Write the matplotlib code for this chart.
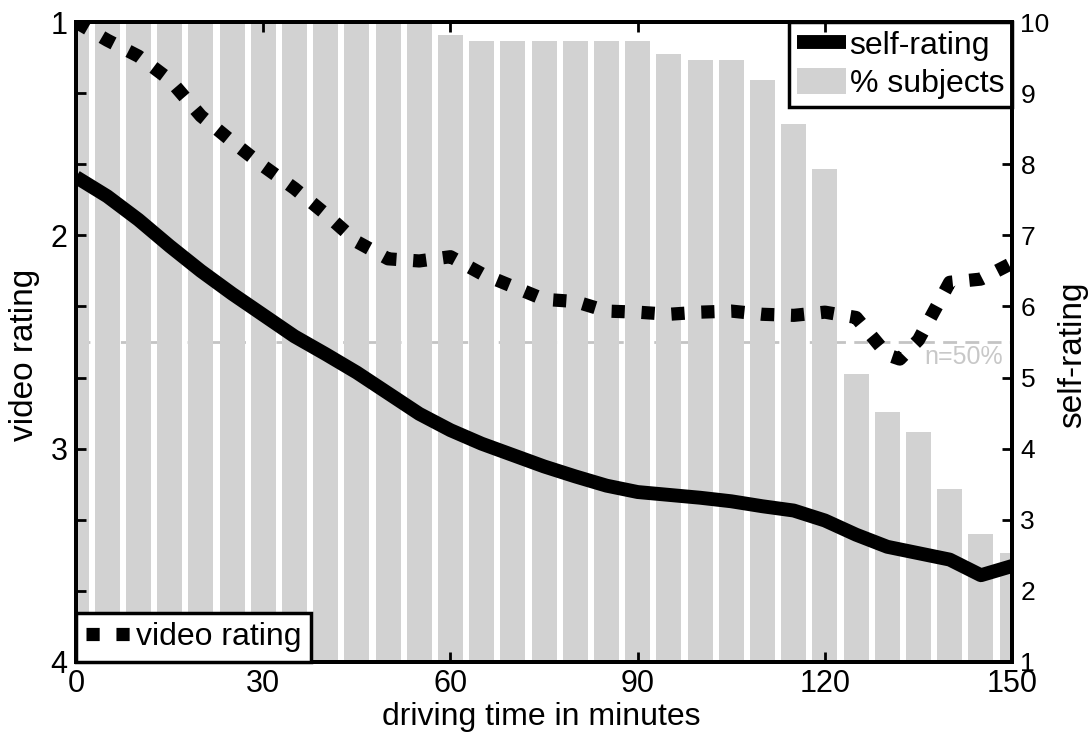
import numpy as np
import matplotlib
matplotlib.use("Agg")
import matplotlib.pyplot as plt

plt.rcParams['font.family'] = ['Liberation Sans', 'DejaVu Sans']

# driving time axis (minutes), one bar every 5 minutes
bar_times = np.arange(0, 151, 5)
# % of subjects still driving at each time
pct_subjects = [100, 100, 100, 100, 100, 100, 100, 100, 100, 100, 100, 100,
                98, 97, 97, 97, 97, 97, 97, 95, 94, 94, 91, 84, 77,
                45, 39, 36, 27, 20, 17]

# video rating (left axis, 1 = awake ... 4 = drowsy)
video_times = [0, 5, 10, 15, 20, 25, 30, 35, 40, 45, 50, 55, 60, 65, 70, 75,
               80, 85, 90, 95, 100, 105, 110, 115, 120, 125, 130, 132, 135,
               140, 145, 150]
video_rating = [1.00, 1.085, 1.16, 1.27, 1.44, 1.56, 1.675, 1.78, 1.90, 2.03,
                2.11, 2.12, 2.10, 2.18, 2.24, 2.30, 2.31, 2.355, 2.36, 2.37,
                2.36, 2.355, 2.37, 2.375, 2.36, 2.385, 2.56, 2.58, 2.49,
                2.22, 2.205, 2.13]

# self-rating (right axis, 1..10)
self_times = np.arange(0, 151, 5)
self_rating = [7.82, 7.55, 7.22, 6.85, 6.50, 6.18, 5.88, 5.58, 5.33, 5.07,
               4.78, 4.49, 4.26, 4.07, 3.91, 3.75, 3.61, 3.48, 3.39, 3.35,
               3.31, 3.26, 3.19, 3.13, 2.99, 2.79, 2.62, 2.53, 2.44, 2.22, 2.35]

BAR_GRAY = '#d2d2d2'
LW_SPINE = 2.8

fig = plt.figure(figsize=(10.91, 7.33), dpi=100)
ax = fig.add_axes([0.0697, 0.0969, 0.858, 0.873])
ax2 = ax.twinx()

# right axis holds the bars and self-rating, left axis drawn on top
ax.set_zorder(2)
ax2.set_zorder(1)
ax.patch.set_visible(False)
ax2.patch.set_visible(True)
ax2.patch.set_facecolor('white')

heights = np.array(pct_subjects) / 100 * 9
bars = ax2.bar(bar_times, heights, width=4, bottom=1, color=BAR_GRAY,
               linewidth=0, zorder=2)
ax2.axhline(5.5, color='#c4c4c4', lw=2, dashes=(5, 3), zorder=1)
ax2.text(148.6, 5.29, 'n=50%', color='#c8c8c8', fontsize=18,
         ha='right', va='center', zorder=3)
self_line, = ax2.plot(self_times, self_rating, color='black', lw=10,
                      solid_capstyle='butt', solid_joinstyle='round', zorder=4)

video_line, = ax.plot(video_times, video_rating, color='black', lw=9.5,
                      linestyle=(0, (1, 1.27)), dash_capstyle='butt')

ax.set_xlim(0, 150)
ax.set_ylim(4, 1)
ax2.set_ylim(1, 10)

ax.set_xticks([0, 30, 60, 90, 120, 150])
ax.set_yticks([1, 2, 3, 4])
ax.set_yticks(np.linspace(1, 4, 10), minor=True)
ax2.set_yticks(range(1, 11))

ax.tick_params(axis='x', which='both', direction='in', top=True, length=7,
               width=2, labelsize=22, pad=5)
ax.tick_params(axis='y', which='both', direction='in', right=False, length=7,
               width=2, labelsize=22, pad=6)
ax2.tick_params(axis='y', direction='in', length=7, width=2, labelsize=19, pad=6)
ax2.tick_params(axis='x', which='both', bottom=False, top=False)

for a in (ax, ax2):
    for s in a.spines.values():
        s.set_linewidth(LW_SPINE)

ax.set_xlabel('driving time in minutes', fontsize=23)
ax.xaxis.set_label_coords(0.497, -0.062)
ax.set_ylabel('video rating', fontsize=24)
ax.yaxis.set_label_coords(-0.038, 0.48)
ax2.set_ylabel('self-rating', fontsize=24)
ax2.yaxis.set_label_coords(1.048, 0.48)

leg2 = ax2.legend([self_line, bars], ['self-rating', '% subjects'],
                  loc='upper right', fontsize=23, borderaxespad=0,
                  fancybox=False, framealpha=1, edgecolor='black',
                  handlelength=1.56, handleheight=0.9, handletextpad=0.1,
                  borderpad=0.25, labelspacing=0.2)
leg2.get_frame().set_linewidth(2.5)

leg = ax.legend([video_line], ['video rating'], loc='lower left', fontsize=23,
                borderaxespad=0, fancybox=False, framealpha=1,
                edgecolor='black', handlelength=1.47, handletextpad=0.1,
                borderpad=0.3)
leg.get_frame().set_linewidth(2.5)

fig.savefig('out.png', dpi=100)
